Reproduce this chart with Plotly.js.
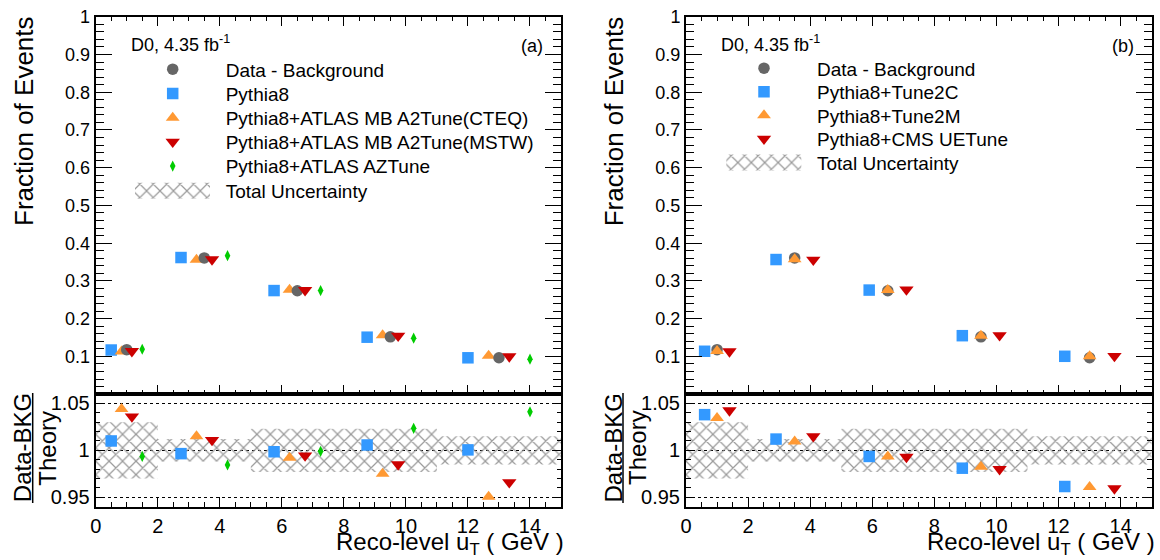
<!DOCTYPE html>
<html>
<head>
<meta charset="utf-8">
<script src="https://cdn.plot.ly/plotly-3.0.1.min.js"></script>
<style>
  html, body { margin: 0; padding: 0; background: #fff; }
  #chart { width: 1160px; height: 560px; }
</style>
</head>
<body>
<div id="chart"></div>
<script>
// ---------------- data ----------------
const binEdges = [0, 2, 5, 8, 11, 15];
const totalUncertainty = [0.030, 0.012, 0.023, 0.023, 0.015];

// panel (a)
const xDataA = [1.0, 3.5, 6.5, 9.5, 13.0];
const dataBkgA = [0.118, 0.361, 0.274, 0.152, 0.0965];
const xPythia8 = [0.5, 2.75, 5.75, 8.75, 12.0];
const pythia8 = [0.117, 0.362, 0.2745, 0.151, 0.0964];
const xA2CTEQ = [0.833, 3.25, 6.25, 9.25, 12.667];
const a2CTEQ = [0.113, 0.356, 0.2765, 0.156, 0.1015];
const xA2MSTW = [1.167, 3.75, 6.75, 9.75, 13.333];
const a2MSTW = [0.114, 0.357, 0.2755, 0.1545, 0.0999];
const xAZ = [1.5, 4.25, 7.25, 10.25, 14.0];
const azTune = [0.119, 0.367, 0.2745, 0.1485, 0.0927];

const ratioPythia8 = [1.010, 0.9965, 0.9985, 1.0057, 1.0005];
const ratioA2CTEQ = [1.044, 1.015, 0.992, 0.975, 0.9505];
const ratioA2MSTW = [1.036, 1.011, 0.9945, 0.985, 0.966];
const ratioAZ = [0.9935, 0.9845, 0.999, 1.0235, 1.041];

// panel (b)
const xDataB = [1.0, 3.5, 6.5, 9.5, 13.0];
const dataBkgB = [0.118, 0.361, 0.274, 0.152, 0.0965];
const xTune2C = [0.6, 2.9, 5.9, 8.9, 12.2];
const tune2C = [0.1137, 0.3567, 0.2758, 0.1550, 0.1004];
const xTune2M = [1.0, 3.5, 6.5, 9.5, 13.0];
const tune2M = [0.1141, 0.3576, 0.2758, 0.1548, 0.1004];
const xCMS = [1.4, 4.1, 7.1, 10.1, 13.8];
const cmsUE = [0.1133, 0.3560, 0.2770, 0.1560, 0.1010];

const ratioTune2C = [1.038, 1.012, 0.9935, 0.981, 0.9615];
const ratioTune2M = [1.0345, 1.0095, 0.9935, 0.9825, 0.961];
const ratioCMS = [1.0425, 1.015, 0.993, 0.980, 0.9595];

const labelsA = ['Data - Background', 'Pythia8', 'Pythia8+ATLAS MB A2Tune(CTEQ)',
                 'Pythia8+ATLAS MB A2Tune(MSTW)', 'Pythia8+ATLAS AZTune', 'Total Uncertainty'];
const labelsB = ['Data - Background', 'Pythia8+Tune2C', 'Pythia8+Tune2M',
                 'Pythia8+CMS UETune', 'Total Uncertainty'];

// ---------------- style ----------------
const FONT = 'Liberation Sans, Arial, Helvetica, sans-serif';
const W = 1160, H = 560;
const px = v => v / W;
const py = v => 1 - v / H;

const C_DATA = '#666666', C_BLUE = '#3399ff', C_ORANGE = '#ff9933', C_RED = '#cc0000', C_GREEN = '#00cc00';
const M = {
  data:  {symbol: 'circle', size: 11.5, color: C_DATA, line: {width: 0}},
  sq:    {symbol: 'square', size: 11.5, color: C_BLUE, line: {width: 0}},
  up:    {symbol: 'triangle-up', size: 12, color: C_ORANGE, line: {width: 0}},
  down:  {symbol: 'triangle-down', size: 12.5, color: C_RED, line: {width: 0}},
  dia:   {symbol: 'diamond-tall', size: 8, color: C_GREEN, line: {width: 0}}
};
const HATCH = {shape: 'x', fgcolor: '#9a9a9a', bgcolor: 'rgba(0,0,0,0)', size: 9.5, solidity: 0.24};

function bandPolygon(edges, unc) {
  const xs = [], ys = [];
  for (let i = 0; i < unc.length; i++) { xs.push(edges[i], edges[i + 1]); ys.push(1 + unc[i], 1 + unc[i]); }
  for (let i = unc.length - 1; i >= 0; i--) { xs.push(edges[i + 1], edges[i]); ys.push(1 - unc[i], 1 - unc[i]); }
  xs.push(edges[0]); ys.push(1 + unc[0]);
  return {x: xs, y: ys};
}

function pts(x, y, marker, xa, ya, name, legend) {
  return {type: 'scatter', mode: 'markers', x: x, y: y, marker: marker, xaxis: xa, yaxis: ya,
          name: name || '', showlegend: !!legend, legend: legend, hoverinfo: 'x+y', cliponaxis: false};
}
function band(xa, ya, name, legend) {
  const p = bandPolygon(binEdges, totalUncertainty);
  return {type: 'scatter', mode: 'none', x: p.x, y: p.y, fill: 'toself', xaxis: xa, yaxis: ya,
          fillcolor: 'rgba(0,0,0,0)', fillpattern: HATCH,
          name: name, showlegend: true, legend: legend, hoverinfo: 'skip'};
}

const traces = [
  // panel (a) ratio band
  band('x2', 'y2', labelsA[5], 'legend6'),
  // panel (a) top
  pts(xPythia8, pythia8, M.sq, 'x', 'y', labelsA[1], 'legend2'),
  pts(xA2CTEQ, a2CTEQ, M.up, 'x', 'y', labelsA[2], 'legend3'),
  pts(xDataA, dataBkgA, M.data, 'x', 'y', labelsA[0], 'legend'),
  pts(xA2MSTW, a2MSTW, M.down, 'x', 'y', labelsA[3], 'legend4'),
  pts(xAZ, azTune, M.dia, 'x', 'y', labelsA[4], 'legend5'),
  // panel (a) ratio
  pts(xPythia8, ratioPythia8, M.sq, 'x2', 'y2'),
  pts(xA2CTEQ, ratioA2CTEQ, M.up, 'x2', 'y2'),
  pts(xA2MSTW, ratioA2MSTW, M.down, 'x2', 'y2'),
  pts(xAZ, ratioAZ, M.dia, 'x2', 'y2'),
  // panel (b) ratio band
  band('x4', 'y4', labelsB[4], 'legend11'),
  // panel (b) top
  pts(xDataB, dataBkgB, M.data, 'x3', 'y3', labelsB[0], 'legend7'),
  pts(xTune2C, tune2C, M.sq, 'x3', 'y3', labelsB[1], 'legend8'),
  pts(xTune2M, tune2M, M.up, 'x3', 'y3', labelsB[2], 'legend9'),
  pts(xCMS, cmsUE, M.down, 'x3', 'y3', labelsB[3], 'legend10'),
  // panel (b) ratio
  pts(xTune2C, ratioTune2C, M.sq, 'x4', 'y4'),
  pts(xTune2M, ratioTune2M, M.up, 'x4', 'y4'),
  pts(xCMS, ratioCMS, M.down, 'x4', 'y4')
];

// ---------------- geometry ----------------
const domXA = [px(95.7), px(561)];
const domXB = [px(686), px(1151.7)];
const domTop = [py(394), py(16.7)];
const domRatio = [py(506.7), py(394)];

function topX(dom, anchor) {
  return {domain: dom, anchor: anchor, range: [0, 15], showticklabels: false,
          ticks: 'inside', tick0: 0, dtick: 2, ticklen: 9, tickwidth: 1, tickcolor: '#000',
          minor: {ticks: 'inside', tick0: 0, dtick: 0.5, ticklen: 4.5, tickwidth: 1, tickcolor: '#000', showgrid: false},
          showline: true, linewidth: 2, linecolor: '#000', mirror: 'ticks',
          showgrid: false, zeroline: false, fixedrange: true};
}
function ratioX(dom, anchor) {
  return {domain: dom, anchor: anchor, range: [0, 15],
          ticks: 'inside', tick0: 0, dtick: 2, ticklen: 10, tickwidth: 1, tickcolor: '#000',
          minor: {ticks: 'inside', tick0: 0, dtick: 0.5, ticklen: 5, tickwidth: 1, tickcolor: '#000', showgrid: false},
          tickfont: {family: FONT, size: 20, color: '#000'},
          showline: true, linewidth: 2, linecolor: '#000', mirror: true,
          showgrid: false, zeroline: false, fixedrange: true};
}
function topY(dom, anchor) {
  return {domain: dom, anchor: anchor, range: [0.0005, 1],
          ticks: 'inside', tick0: 0, dtick: 0.1, ticklen: 16, tickwidth: 1, tickcolor: '#000',
          minor: {ticks: 'inside', tick0: 0, dtick: 0.02, ticklen: 8, tickwidth: 1, tickcolor: '#000', showgrid: false},
          tickfont: {family: FONT, size: 18, color: '#000'},
          showline: true, linewidth: 2, linecolor: '#000', mirror: 'ticks',
          showgrid: false, zeroline: false, fixedrange: true};
}
function ratioY(dom, anchor) {
  return {domain: dom, anchor: anchor, range: [0.94, 1.06],
          ticks: 'inside', tick0: 0.95, dtick: 0.05, ticklen: 9, tickwidth: 1, tickcolor: '#000',
          minor: {ticks: 'inside', tick0: 0.95, dtick: 0.01, ticklen: 4.5, tickwidth: 1, tickcolor: '#000', showgrid: false},
          tickfont: {family: FONT, size: 20, color: '#000'},
          showline: true, linewidth: 2, linecolor: '#000', mirror: 'ticks',
          showgrid: true, gridcolor: '#000', gridwidth: 1, griddash: 'dot',
          zeroline: false, fixedrange: true};
}

function leg(xpx, ypx) {
  return {x: px(xpx), y: py(ypx), xanchor: 'left', yanchor: 'middle',
          bgcolor: 'rgba(0,0,0,0)', borderwidth: 0, itemwidth: 96,
          font: {family: FONT, size: 19, color: '#000'},
          itemclick: false, itemdoubleclick: false};
}

function ann(text, xpx, ypx, size, opts) {
  return Object.assign({text: text, xref: 'paper', yref: 'paper', x: px(xpx), y: py(ypx),
          showarrow: false, font: {family: FONT, size: size, color: '#000'},
          xanchor: 'center', yanchor: 'middle'}, opts || {});
}

const annotations = [];
const shapes = [];
[[95.7, 561, '(a)'], [686, 1151.7, '(b)']].forEach(([x0, x1, tag]) => {
  annotations.push(ann('Fraction of Events', x0 - 71.7, 121, 26, {textangle: -90}));
  annotations.push(ann('Data-BKG', x0 - 73.5, 448, 24, {textangle: -90}));
  annotations.push(ann('Theory', x0 - 49, 448, 24, {textangle: -90}));
  annotations.push(ann('Reco-level u<sub>T</sub> ( GeV )', x1 + 4, 559.5, 24,
                       {xanchor: 'right', yanchor: 'bottom', borderpad: 0}));
  annotations.push(ann('D0, 4.35 fb<sup>-1</sup>', x0 + 33, 44, 18, {xanchor: 'left'}));
  annotations.push(ann(tag, x1 - 16, 46, 18, {xanchor: 'right'}));
  shapes.push({type: 'line', xref: 'paper', yref: 'paper', x0: px(x0 - 63), x1: px(x0 - 63),
               y0: py(393), y1: py(503), line: {color: '#000', width: 1.5}});
});

const layout = {
  width: W, height: H,
  margin: {l: 0, r: 0, t: 0, b: 0},
  paper_bgcolor: '#fff', plot_bgcolor: 'rgba(0,0,0,0)',
  font: {family: FONT, color: '#000'},
  showlegend: true,
  xaxis: topX(domXA, 'y'), yaxis: topY(domTop, 'x'),
  xaxis2: ratioX(domXA, 'y2'), yaxis2: ratioY(domRatio, 'x2'),
  xaxis3: topX(domXB, 'y3'), yaxis3: topY(domTop, 'x3'),
  xaxis4: ratioX(domXB, 'y4'), yaxis4: ratioY(domRatio, 'x4'),
  legend: leg(119.7, 69.3), legend2: leg(119.7, 93.6), legend3: leg(119.7, 118),
  legend4: leg(119.7, 142), legend5: leg(119.7, 166.2), legend6: leg(119.7, 191),
  legend7: leg(711, 68.3), legend8: leg(711, 91.8), legend9: leg(711, 115.5),
  legend10: leg(711, 139), legend11: leg(711, 162.7),
  annotations: annotations,
  shapes: shapes
};

// legend key of the hatched band: widen the library's swatch to a ROOT-like box
function widenHatchKeys() {
  ['legend6', 'legend11'].forEach(id => {
    document.querySelectorAll('g.' + id + ' .legendfill path').forEach(p => {
      p.setAttribute('d', 'M15.3,-8h75v16h-75z');
    });
  });
}

const gd = document.getElementById('chart');
Plotly.newPlot(gd, traces, layout, {displayModeBar: false, staticPlot: true}).then(() => {
  widenHatchKeys();
  gd.on('plotly_afterplot', widenHatchKeys);
});
</script>
</body>
</html>
